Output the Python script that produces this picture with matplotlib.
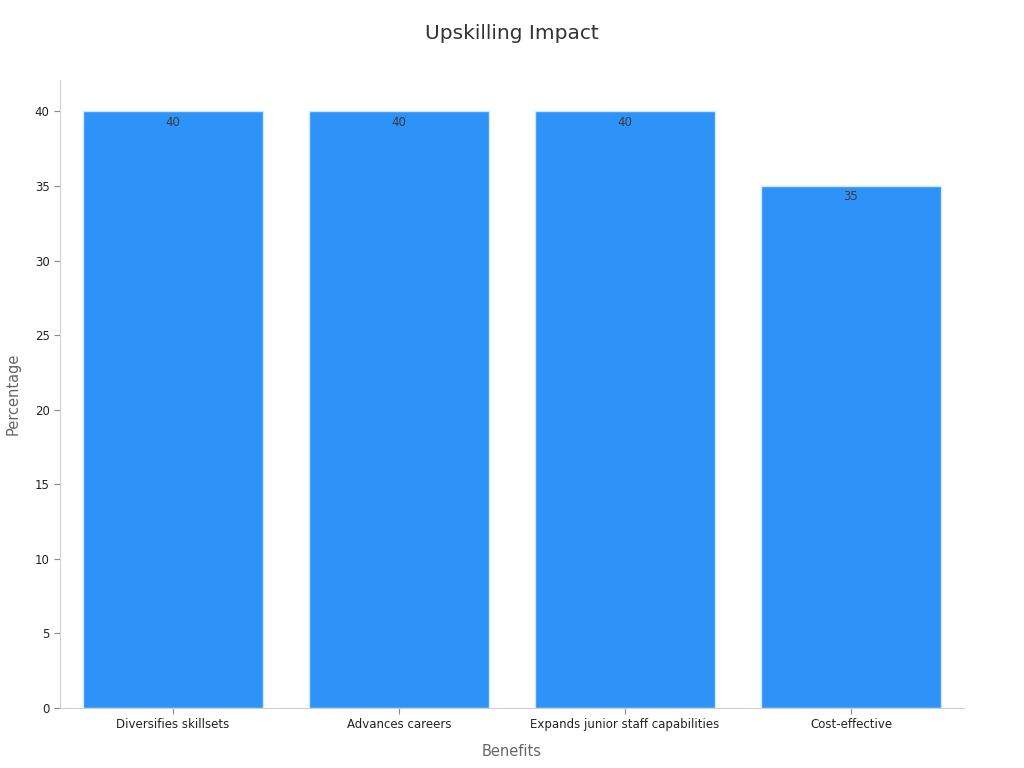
import matplotlib.pyplot as plt

categories = ['Diversifies skillsets', 'Advances careers',
              'Expands junior staff capabilities', 'Cost-effective']
values = [40, 40, 40, 35]
yticks = [0, 5, 10, 15, 20, 25, 30, 35, 40]

fig = plt.figure(figsize=(10.24, 7.68), dpi=100)
ax = fig.add_axes([0.0586, 0.0781, 0.8828, 0.8177])

x = range(len(categories))
bars = ax.bar(x, values, width=0.8, color='#2E93F9', edgecolor='#cfe6fd', linewidth=1)
for b, v in zip(bars, values):
    ax.text(b.get_x() + b.get_width() / 2, v - 0.3, str(v), ha='center', va='top',
            fontsize=8.5, color='#3a3a3a')

ax.set_xlim(-0.5, 3.5)
ax.set_ylim(0, 42.1)
ax.set_xticks(list(x))
ax.set_xticklabels(categories, fontsize=8.5, color='#222222')
ax.set_yticks(yticks)
ax.tick_params(axis='y', labelsize=8.5, colors='#222222', length=4, color='#888888')
ax.tick_params(axis='x', length=4, color='#888888')
for s in ['top', 'right']:
    ax.spines[s].set_visible(False)
for s in ['left', 'bottom']:
    ax.spines[s].set_color('#d0d0d0')

ax.set_xlabel('Benefits', fontsize=10.5, color='#666666', labelpad=9)
ax.set_ylabel('Percentage', fontsize=10.5, color='#666666', labelpad=10)
fig.text(0.5, 0.957, 'Upskilling Impact', ha='center', va='center', fontsize=14.5, color='#333333')

fig.savefig('out.png', dpi=100)
